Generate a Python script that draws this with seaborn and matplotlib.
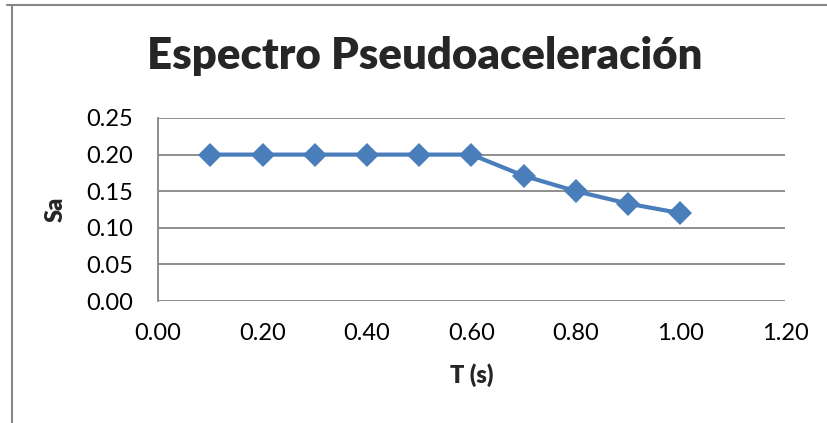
import matplotlib
matplotlib.use("Agg")
import matplotlib.pyplot as plt
import pandas as pd
import seaborn as sns
from matplotlib.lines import Line2D

# data
periods = [0.1, 0.2, 0.3, 0.4, 0.5, 0.6, 0.7, 0.8, 0.9, 1.0]
sa_values = [0.200, 0.200, 0.200, 0.200, 0.200, 0.200, 0.171, 0.150, 0.133, 0.120]
x_ticks = [0.0, 0.2, 0.4, 0.6, 0.8, 1.0, 1.2]
y_ticks = [0.0, 0.05, 0.10, 0.15, 0.20, 0.25]

df = pd.DataFrame({"T": periods, "Sa": sa_values})

sns.set_style("white")
plt.rcParams["font.family"] = ["Lato", "DejaVu Sans"]

fig = plt.figure(figsize=(8.27, 4.23), dpi=100)
ax = fig.add_axes([158 / 827, 1 - 301 / 423, (785 - 158) / 827, (301 - 118) / 423])

sns.lineplot(data=df, x="T", y="Sa", ax=ax, color="#4A7EBB", linewidth=3.0,
             marker="D", markersize=12, markeredgewidth=0, zorder=3)

ax.set_xlim(0, 1.2)
ax.set_ylim(0, 0.25)
ax.set_xticks(x_ticks)
ax.set_yticks(y_ticks)
ax.set_xticklabels([f"{t:.2f}" for t in x_ticks], fontsize=17)
ax.set_yticklabels([f"{t:.2f}" for t in y_ticks], fontsize=17)
ax.tick_params(axis="both", length=0, colors="black")
ax.tick_params(axis="y", pad=18)
ax.tick_params(axis="x", pad=16)

ax.grid(axis="y", color="#868686", linewidth=1.3)
ax.grid(axis="x", visible=False)
for side in ["top", "right", "bottom"]:
    ax.spines[side].set_visible(False)
ax.spines["left"].set_color("#868686")
ax.spines["left"].set_linewidth(1.3)

ax.set_xlabel("T (s)", fontsize=17, fontweight="heavy", labelpad=14)
ax.set_ylabel("Sa", fontsize=17, fontweight="heavy", labelpad=14)

# title is centred on the whole chart, not on the plot area
fig.text(424.5 / 827, 1 - 69 / 423, "Espectro Pseudoaceleración", fontsize=31.5,
         fontweight="heavy", ha="center", va="baseline")

# chart frame (top and left edges visible in the crop)
fig.add_artist(Line2D([7 / 827, 1], [1 - 5.5 / 423] * 2, transform=fig.transFigure,
                      color="#868686", linewidth=1.5))
fig.add_artist(Line2D([12 / 827] * 2, [0, 1 - 5.5 / 423], transform=fig.transFigure,
                      color="#868686", linewidth=1.5))

fig.savefig("out.png", dpi=100)
